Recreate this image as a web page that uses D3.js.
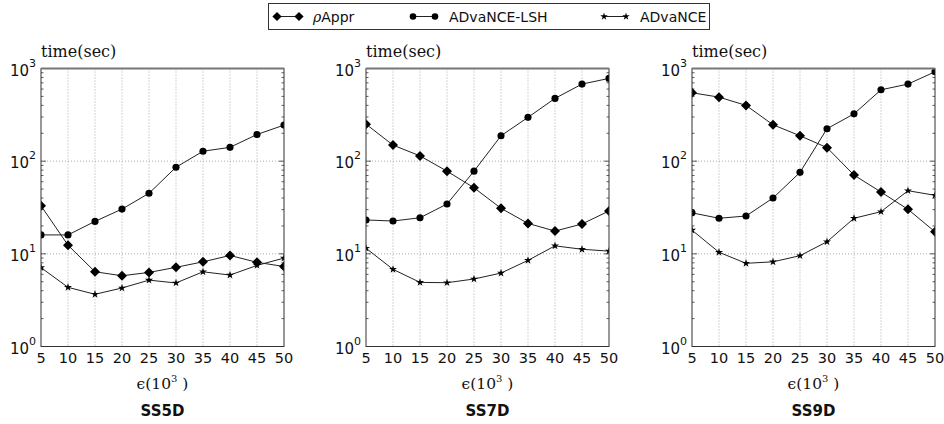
<!DOCTYPE html>
<html>
<head>
<meta charset="utf-8">
<script src="https://cdn.jsdelivr.net/npm/d3@7"></script>
<style>
  html, body { margin: 0; padding: 0; background: #fff; }
  svg { display: block; }
</style>
</head>
<body>
<svg id="chart" width="944" height="424"></svg>
<script>
// Epsilon values (in thousands) on the x axis
const epsilon = [5, 10, 15, 20, 25, 30, 35, 40, 45, 50];
const xTicks = [5, 10, 15, 20, 25, 30, 35, 40, 45, 50];
const yDecades = [1, 10, 100, 1000];
const datasets = ["SS5D", "SS7D", "SS9D"];
const seriesNames = ["Appr", "ADvaNCE-LSH", "ADvaNCE"];

// Running time (seconds) per dataset
const ss5d_rhoAppr = [33, 12.4, 6.4, 5.8, 6.3, 7.15, 8.2, 9.6, 8.1, 7.3];
const ss5d_lsh     = [16, 16, 22.4, 30.4, 45, 86, 128, 141, 194, 245];
const ss5d_advance = [7.1, 4.35, 3.66, 4.28, 5.2, 4.85, 6.4, 5.9, 7.5, 9.0];

const ss7d_rhoAppr = [251, 149, 114, 78, 51.6, 31, 21.3, 17.6, 21, 29];
const ss7d_lsh     = [23.2, 22.6, 24.5, 34.5, 78, 188, 297, 476, 679, 782];
const ss7d_advance = [11.5, 6.8, 4.92, 4.88, 5.35, 6.2, 8.5, 12.2, 11.2, 10.7];

const ss9d_rhoAppr = [547, 491, 400, 247, 188, 140, 70.8, 46.4, 30.2, 17.3];
const ss9d_lsh     = [27.7, 24.2, 25.6, 40, 75.7, 224, 324, 589, 679, 922];
const ss9d_advance = [18, 10.4, 7.9, 8.2, 9.55, 13.5, 24.2, 28.5, 48, 42.8];

const panelData = [
  [ss5d_rhoAppr, ss5d_lsh, ss5d_advance],
  [ss7d_rhoAppr, ss7d_lsh, ss7d_advance],
  [ss9d_rhoAppr, ss9d_lsh, ss9d_advance]
];

const svg = d3.select("#chart");
const panelLeft = [41, 366, 692];
const plotW = 243, plotTop = 68.5, plotH = 278;

// square diamond marker (rotated square)
const squareDiamond = {
  draw(ctx, size) {
    const r = Math.sqrt(size / 2);
    ctx.moveTo(0, -r); ctx.lineTo(r, 0); ctx.lineTo(0, r); ctx.lineTo(-r, 0); ctx.closePath();
  }
};

function markerPath(idx, legendScale) {
  const s = legendScale || 1;
  if (idx === 0) return d3.symbol().type(squareDiamond).size(50 * s)();
  if (idx === 1) return d3.symbol().type(d3.symbolCircle).size(40 * s)();
  return d3.symbol().type(d3.symbolStar).size(20 * s)();
}

function drawMarker(g, idx, x, y, s) {
  g.append("path")
    .attr("d", markerPath(idx, s))
    .attr("transform", `translate(${x},${y})`)
    .attr("fill", "#000");
}

const x = d3.scaleLinear().domain([5, 50]).range([0, plotW]);
const y = d3.scaleLog().domain([1, 1000]).range([plotH, 0]);

const minorTicks = [];
for (let d = 1; d < 1000; d *= 10) for (let k = 2; k <= 9; k++) minorTicks.push(d * k);

panelData.forEach((series, p) => {
  const g = svg.append("g").attr("transform", `translate(${panelLeft[p]},${plotTop})`);

  g.append("clipPath").attr("id", "clip" + p)
    .append("rect").attr("width", plotW).attr("height", plotH);

  // dotted grid
  const grid = g.append("g").attr("stroke", "#aaa").attr("stroke-dasharray", "1,2").attr("stroke-width", 1);
  xTicks.slice(1, -1).forEach(t => {
    grid.append("line").attr("x1", x(t)).attr("x2", x(t)).attr("y1", 0).attr("y2", plotH);
  });
  yDecades.slice(1, -1).forEach(t => {
    grid.append("line").attr("x1", 0).attr("x2", plotW).attr("y1", y(t)).attr("y2", y(t));
  });

  // inward ticks on left and right
  const ticks = g.append("g").attr("stroke", "#333").attr("stroke-width", 0.8);
  minorTicks.forEach(t => {
    ticks.append("line").attr("x1", 0).attr("x2", 2.5).attr("y1", y(t)).attr("y2", y(t));
    ticks.append("line").attr("x1", plotW).attr("x2", plotW - 2.5).attr("y1", y(t)).attr("y2", y(t));
  });
  yDecades.forEach(t => {
    ticks.append("line").attr("x1", 0).attr("x2", 5).attr("y1", y(t)).attr("y2", y(t));
    ticks.append("line").attr("x1", plotW).attr("x2", plotW - 5).attr("y1", y(t)).attr("y2", y(t));
  });

  // series
  const lineGen = d3.line().x((d, i) => x(epsilon[i])).y(d => y(d));
  const plotArea = g.append("g").attr("clip-path", `url(#clip${p})`);
  series.forEach((vals, si) => {
    plotArea.append("path").datum(vals).attr("d", lineGen)
      .attr("fill", "none").attr("stroke", "#222").attr("stroke-width", 1);
    vals.forEach((v, i) => drawMarker(plotArea, si, x(epsilon[i]), y(v)));
  });

  // frame
  g.append("rect").attr("width", plotW).attr("height", plotH)
    .attr("fill", "none").attr("stroke", "#333").attr("stroke-width", 1);
  g.append("line").attr("x1", 0).attr("x2", plotW).attr("y1", 0).attr("y2", 0)
    .attr("stroke", "#777").attr("stroke-width", 2);

  // x tick labels
  g.append("g").selectAll("text").data(xTicks).join("text")
    .attr("x", d => x(d)).attr("y", plotH + 16)
    .attr("text-anchor", "middle")
    .attr("font-family", "DejaVu Sans, sans-serif").attr("font-size", 14.5)
    .attr("fill", "#111")
    .text(d => d);

  // y tick labels: 10^k
  const yl = g.append("g").attr("font-family", "DejaVu Sans, sans-serif").attr("fill", "#111");
  yDecades.forEach((t, k) => {
    const tx = yl.append("text").attr("x", -5).attr("y", y(t) + 7).attr("text-anchor", "end");
    tx.append("tspan").attr("font-size", 15).text("10");
    tx.append("tspan").attr("font-size", 11).attr("dy", -9).text(String(k));
  });

  // y axis title
  g.append("text").attr("x", 0).attr("y", -12)
    .attr("font-family", "DejaVu Serif, serif").attr("font-size", 16)
    .attr("fill", "#111").text("time(sec)");

  // x axis title
  const xt = g.append("text").attr("x", plotW / 2).attr("y", plotH + 42)
    .attr("text-anchor", "middle")
    .attr("font-family", "DejaVu Serif, serif").attr("fill", "#111");
  xt.append("tspan").attr("font-size", 15.5).text("ϵ(10");
  xt.append("tspan").attr("font-size", 10).attr("dy", -7).text("3");
  xt.append("tspan").attr("font-size", 15.5).attr("dy", 7).text(" )");

  // dataset caption
  g.append("text").attr("x", plotW / 2).attr("y", plotH + 69)
    .attr("text-anchor", "middle")
    .attr("font-family", "DejaVu Sans, sans-serif").attr("font-weight", "bold")
    .attr("font-size", 15).attr("fill", "#111").text(datasets[p]);
});

// legend
const legend = svg.append("g");
legend.append("rect").attr("x", 268.5).attr("y", 3.5).attr("width", 441).attr("height", 26)
  .attr("fill", "#fff").attr("stroke", "#333").attr("stroke-width", 1);
const legendX = [277, 413, 604];
seriesNames.forEach((name, i) => {
  const lx = legendX[i], ly = 16.5;
  legend.append("line").attr("x1", lx).attr("x2", lx + 22).attr("y1", ly).attr("y2", ly)
    .attr("stroke", "#222").attr("stroke-width", 1);
  drawMarker(legend, i, lx, ly, 0.85);
  drawMarker(legend, i, lx + 22, ly, 0.85);
  const t = legend.append("text").attr("x", lx + 36).attr("y", ly + 5)
    .attr("font-family", "DejaVu Sans, sans-serif").attr("font-size", 14)
    .attr("fill", "#111");
  if (i === 0) {
    t.append("tspan").attr("font-family", "DejaVu Serif, serif").attr("font-style", "italic").text("ρ");
  }
  t.append("tspan").text(name);
});
</script>
</body>
</html>
